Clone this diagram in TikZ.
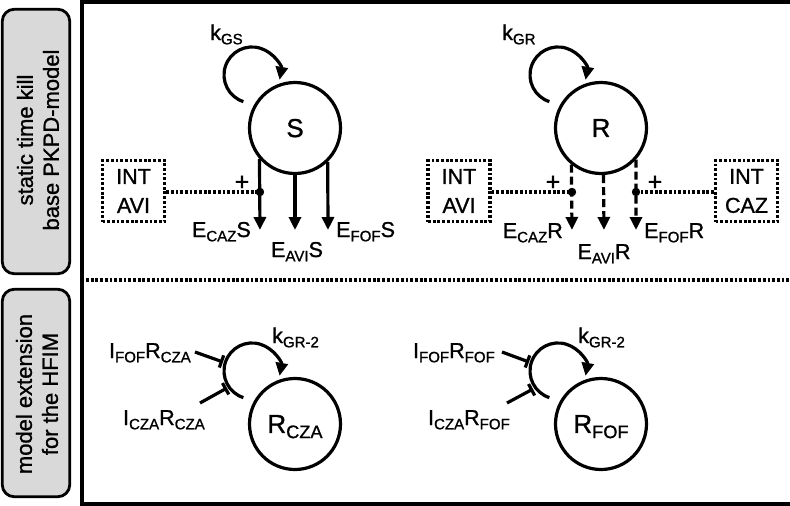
\documentclass[tikz,border=0pt]{standalone}
\usepackage{fontspec}
\setmainfont{Liberation Sans}[FakeBold=1.1]
\usetikzlibrary{arrows.meta}
\makeatletter
\newcommand\sbs[1]{\raisebox{-0.2em}{\fontsize{\the\dimexpr\f@size pt*7/10\relax}{0pt}\selectfont #1}}
\makeatother
\begin{document}
\begin{tikzpicture}[x=1pt,y=-1pt,
  lbl/.style={inner sep=0pt, font=\fontsize{21.5}{29}\selectfont},
  circ/.style={circle, draw, line width=3.2pt, minimum size=91pt, inner sep=0pt, font=\fontsize{26}{26}\selectfont, text depth=0pt},
  intbox/.style={draw, line width=3.2pt, dash pattern=on 2.8pt off 1.9pt, minimum width=62pt, minimum height=61pt, inner sep=0pt, align=center, font=\fontsize{21.5}{29}\selectfont},
  dotline/.style={line width=3.2pt, dash pattern=on 2.8pt off 1.9pt},
  sidebox/.style={draw, line width=2.8pt, fill=black!15, rounded corners=12pt, minimum width=67.5pt, inner sep=0pt},
  sidetxt/.style={rotate=90, align=center, inner sep=0pt, font=\fontsize{22}{26}\selectfont},
  arr/.style={line width=3.2pt, -{Triangle[width=12pt,length=13pt]}},
  darr/.style={arr, dash pattern=on 8pt off 4pt},
  loopar/.style={line width=3.2pt, -{Triangle[width=12pt,length=13pt]}},
  inh/.style={line width=3.2pt, -{Bar[width=13pt,line width=3.2pt]}},
  plus/.style={inner sep=0pt, font=\fontsize{25}{25}\selectfont},
  dotfill/.style={fill=black}
]
\useasboundingbox (0,0) rectangle (790,506);

% frame
\begin{scope}
\clip (0,0) rectangle (790,506);
\draw[line width=3.6pt] (81.7,1.8) rectangle (800,504.2);
\end{scope}
\draw[dotline] (86,280) -- (790,280);

% side labels
\node[sidebox, minimum height=264.5pt] (sb1) at (36,141.5) {};
\node[sidebox, minimum height=207.5pt] (sb2) at (36,393) {};
\node[sidetxt] (st1) at (38,140) {static time kill\\base PKPD-model};
\node[sidetxt] (st2) at (37,394) {model extension\\for the HFIM};

% ---------- S ----------
\node[circ] (S) at (295,128) {S};
\coordinate (lS) at (243.35,101.6);
\draw[loopar] (lS) arc[start angle=108, end angle=370, radius=28];
\node[lbl, anchor=base west] (kGS) at (210,40) {k\sbs{GS}};

\node[intbox] (intS) at (133.5,191) {INT\\AVI};
\coordinate (tS1) at (260,230);
\coordinate (tS2) at (295,230);
\coordinate (tS3) at (328,230);
\coordinate (dS) at (260,192);
\draw[arr] (S.221.9) -- (tS1);
\draw[arr] (S.270) -- (tS2);
\draw[arr] (S.314.6) -- (tS3);
\draw[dotline] (intS.east |- dS) -- (dS);
\fill[dotfill] (dS) circle[radius=4.2];
\node[plus] (pS) at (242,183) {+};

\node[lbl, anchor=base east] (ECS) at (251,237) {E\sbs{CAZ}S};
\node[lbl, anchor=base] (EAS) at (297,257) {E\sbs{AVI}S};
\node[lbl, anchor=base west] (EFS) at (336,237) {E\sbs{FOF}S};

% ---------- R ----------
\node[circ] (R) at (601,128) {R};
\coordinate (lR) at (549.35,101.6);
\draw[loopar] (lR) arc[start angle=108, end angle=370, radius=28];
\node[lbl, anchor=base west] (kGR) at (502,40) {k\sbs{GR}};

\node[intbox] (intA) at (459,191) {INT\\AVI};
\node[intbox] (intC) at (746.5,191) {INT\\CAZ};
\coordinate (tR1) at (572,230);
\coordinate (tR2) at (604,230);
\coordinate (tR3) at (636,230);
\coordinate (dR1) at (572,192);
\coordinate (dR3) at (636,192);
\draw[darr] (R.231.9) -- (tR1);
\draw[darr] (R.273.7) -- (tR2);
\draw[darr] (R.318.1) -- (tR3);
\draw[dotline] (intA.east |- dR1) -- (dR1);
\draw[dotline] (intC.west |- dR3) -- (dR3);
\fill[dotfill] (dR1) circle[radius=4.2];
\fill[dotfill] (dR3) circle[radius=4.2];
\node[plus] (pR1) at (553,183) {+};
\node[plus] (pR3) at (655,183) {+};

\node[lbl, anchor=base east] (ECR) at (563,238) {E\sbs{CAZ}R};
\node[lbl, anchor=base] (EAR) at (604,259) {E\sbs{AVI}R};
\node[lbl, anchor=base west] (EFR) at (644,238) {E\sbs{FOF}R};

% ---------- R_CZA ----------
\node[circ] (RC) at (295,424) {R\sbs{CZA}};
\coordinate (lC) at (243.35,397.6);
\draw[loopar] (lC) arc[start angle=108, end angle=370, radius=28];
\node[lbl, anchor=base west] (kC) at (272,343) {k\sbs{GR-2}};
\node[lbl, anchor=base east] (I1) at (191,358) {I\sbs{FOF}R\sbs{CZA}};
\node[lbl, anchor=base east] (I2) at (205,425) {I\sbs{CZA}R\sbs{CZA}};
\coordinate (i1s) at (195,352);
\coordinate (i1e) at (223,362);
\coordinate (i2s) at (200,403);
\coordinate (i2e) at (227,388);
\draw[inh] (i1s) -- (i1e);
\draw[inh] (i2s) -- (i2e);

% ---------- R_FOF ----------
\node[circ] (RF) at (601,424) {R\sbs{FOF}};
\coordinate (lF) at (549.35,397.6);
\draw[loopar] (lF) arc[start angle=108, end angle=370, radius=28];
\node[lbl, anchor=base west] (kF) at (578,343) {k\sbs{GR-2}};
\node[lbl, anchor=base east] (I3) at (495,358) {I\sbs{FOF}R\sbs{FOF}};
\node[lbl, anchor=base east] (I4) at (510,425) {I\sbs{CZA}R\sbs{FOF}};
\coordinate (i3s) at (502,352);
\coordinate (i3e) at (529,362);
\coordinate (i4s) at (507,403);
\coordinate (i4e) at (533,389);
\draw[inh] (i3s) -- (i3e);
\draw[inh] (i4s) -- (i4e);
\end{tikzpicture}
\end{document}
